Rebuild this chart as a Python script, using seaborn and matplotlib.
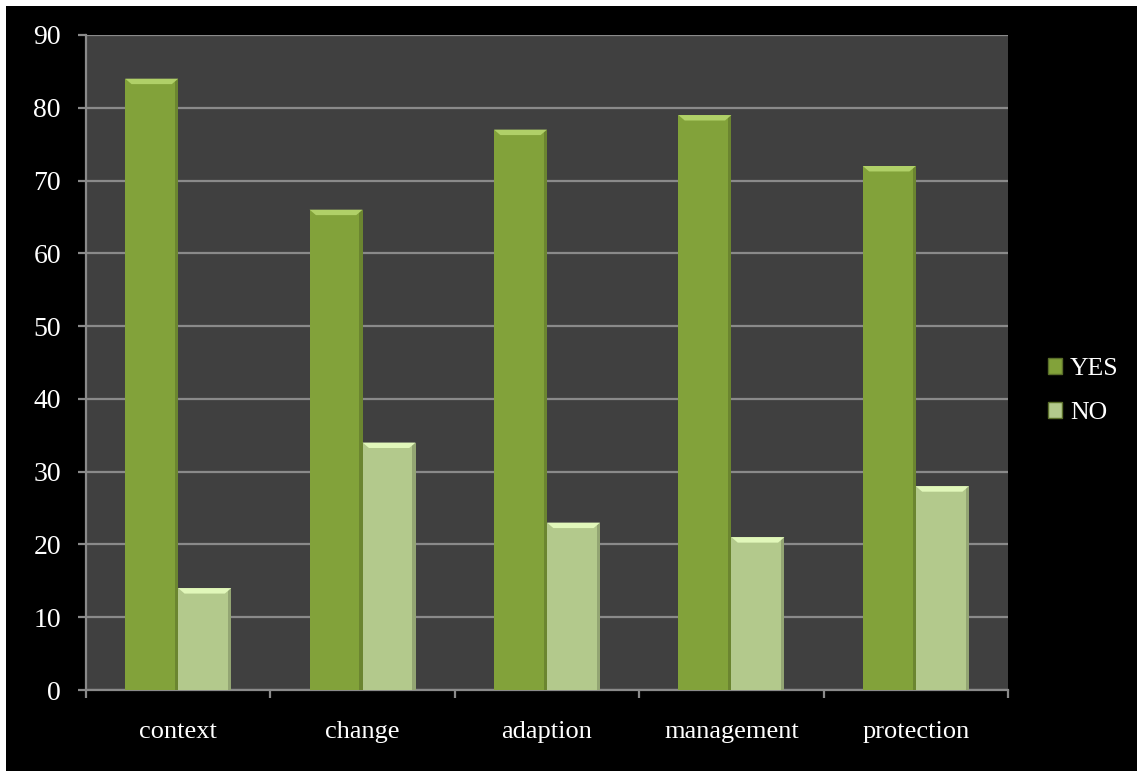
import matplotlib
matplotlib.use("Agg")
import matplotlib.pyplot as plt
import matplotlib.patches as mpatches
import seaborn as sns
import pandas as pd

categories = ["context", "change", "adaption", "management", "protection"]
yes_values = [84, 66, 77, 79, 72]
no_values = [14, 34, 23, 21, 28]
series = ["YES", "NO"]
colors = {"YES": "#82a23a", "NO": "#b3c98c"}

df = pd.DataFrame({
    "category": categories * 2,
    "answer": ["YES"] * len(categories) + ["NO"] * len(categories),
    "value": yes_values + no_values,
})

sns.set_style("white")
plt.rcParams["font.family"] = ["Liberation Serif", "DejaVu Serif"]

fig = plt.figure(figsize=(11.37, 7.71), dpi=100)
fig.patch.set_facecolor("black")
# thin white margin at top and left
fig.patches.append(mpatches.Rectangle((0, 1 - 6 / 771), 1, 6 / 771, transform=fig.transFigure,
                                      facecolor="white", edgecolor="none", zorder=-10))
fig.patches.append(mpatches.Rectangle((0, 0), 6 / 1137, 1, transform=fig.transFigure,
                                      facecolor="white", edgecolor="none", zorder=-10))

ax = fig.add_axes([86 / 1137, 1 - 690 / 771, (1008 - 86) / 1137, (690 - 35) / 771])
ax.set_facecolor("#404040")

sns.barplot(data=df, x="category", y="value", hue="answer", hue_order=series,
            palette=colors, width=0.575, saturation=1, ax=ax, legend=False,
            edgecolor="none", zorder=3)

# bevel: light cap on top, darker strip on the right side
for p in list(ax.patches):
    x, w, h = p.get_x(), p.get_width(), p.get_height()
    c = p.get_facecolor()
    light = tuple(min(1, v + 0.18) for v in c[:3])
    dark = tuple(v * 0.82 for v in c[:3])
    cap = 0.75
    ax.add_patch(mpatches.Rectangle((x + w * 0.94, 0), w * 0.06, h, facecolor=dark,
                                    edgecolor="none", zorder=4))
    ax.add_patch(mpatches.Polygon(
        [(x, h), (x + w, h), (x + w * 0.88, h - cap), (x + w * 0.12, h - cap)],
        closed=True, facecolor=light, edgecolor="none", zorder=5))

ax.set_ylim(0, 90)
ax.set_yticks(range(0, 91, 10))
ax.set_xlim(-0.5, len(categories) - 0.5)
ax.yaxis.grid(True, color="#8a8a8a", linewidth=1.6, zorder=1)
ax.set_axisbelow(True)
ax.set_xlabel("")
ax.set_ylabel("")

for side in ["top", "right"]:
    ax.spines[side].set_visible(False)
for side in ["left", "bottom"]:
    ax.spines[side].set_color("#8a8a8a")
    ax.spines[side].set_linewidth(1.6)

ax.tick_params(axis="y", colors="#8a8a8a", labelcolor="white", labelsize=20,
               length=6, width=1.6, left=True, pad=12)
ax.set_xticks(range(len(categories)))
ax.set_xticklabels(categories)
ax.tick_params(axis="x", labelcolor="white", labelsize=19, length=0, pad=22)
# x tick marks between categories
ax.set_xticks([i - 0.5 for i in range(len(categories) + 1)], minor=True)
ax.tick_params(axis="x", which="minor", colors="#8a8a8a", length=6, width=1.6,
               bottom=True)

handles = [mpatches.Patch(facecolor=colors[s], edgecolor="#5a6e2a", label=s) for s in series]
fig.legend(handles=handles, loc="center left", bbox_to_anchor=(1048 / 1137, 1 - 391 / 771),
           frameon=False, fontsize=18.5, handlelength=0.55, handleheight=0.55,
           handletextpad=0.3, labelspacing=0.85, borderpad=0, borderaxespad=0,
           labelcolor="white")

fig.savefig("out.png", dpi=100, facecolor=fig.get_facecolor())
